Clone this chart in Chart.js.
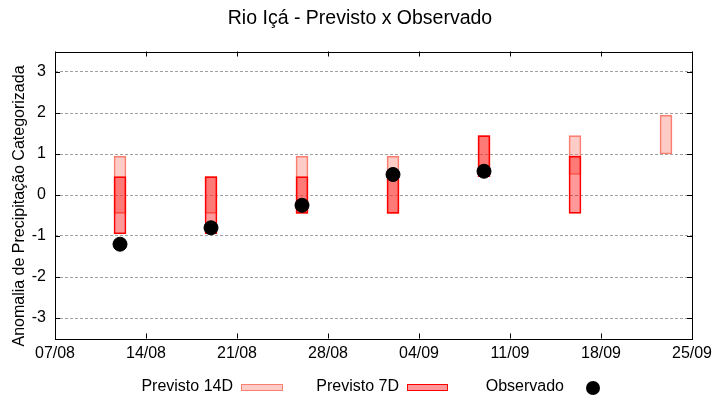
<!DOCTYPE html>
<html>
<head>
<meta charset="utf-8">
<script src="https://cdn.jsdelivr.net/npm/chart.js@4.4.0/dist/chart.umd.min.js"></script>
<style>
  html, body { margin: 0; padding: 0; background: #fff; }
  #wrap { width: 720px; height: 400px; }
</style>
</head>
<body>
<div id="wrap"><canvas id="chart"></canvas></div>
<script>
// chart values
const startDate = '07/08';
const tickLabels = ['07/08', '14/08', '21/08', '28/08', '04/09', '11/09', '18/09', '25/09'];
const yTickValues = [-3, -2, -1, 0, 1, 2, 3];
const forecastDates = ['12/08', '19/08', '26/08', '02/09', '09/09', '16/09', '23/09'];
const prev14Low  = [-0.45, -0.45, -0.45, -0.45, 0.45, 0.5, 1.0];
const prev14High = [0.95, 0.45, 0.95, 0.95, 1.45, 1.45, 1.95];
const prev7Low   = [-0.95, -0.95, -0.45, -0.45, 0.45, -0.45, null];
const prev7High  = [0.45, 0.45, 0.45, 0.45, 1.45, 0.95, null];
const observed   = [-1.2, -0.8, -0.25, 0.5, 0.58, null, null];

const FONT = '"Liberation Sans", Arial, sans-serif';

// days since the first tick (dd/mm, same year)
function dayOffset(s) {
  const [d, m] = s.split('/').map(Number);
  const [d0, m0] = startDate.split('/').map(Number);
  return Math.round((Date.UTC(2024, m - 1, d) - Date.UTC(2024, m0 - 1, d0)) / 86400000);
}

const xDays = forecastDates.map(dayOffset);

function rangeData(lows, highs) {
  const out = [];
  xDays.forEach((x, i) => {
    if (lows[i] !== null && highs[i] !== null) out.push({ x: x, y: [lows[i], highs[i]] });
  });
  return out;
}

const obsData = [];
xDays.forEach((x, i) => { if (observed[i] !== null) obsData.push({ x: x, y: observed[i] }); });

// title, y label, frame, inner ticks, legend in gnuplot style
const decorPlugin = {
  id: 'decor',
  afterDraw(chart) {
    const ctx = chart.ctx;
    const a = chart.chartArea;
    const xs = chart.scales.x, ys = chart.scales.y;
    ctx.save();

    // frame
    ctx.strokeStyle = '#000';
    ctx.lineWidth = 1;
    ctx.strokeRect(Math.round(a.left) + 0.5, Math.round(a.top) + 0.5,
                   Math.round(a.right - a.left), Math.round(a.bottom - a.top));

    // inward tick marks
    ctx.beginPath();
    ys.ticks.forEach(t => {
      const py = Math.round(ys.getPixelForValue(t.value)) + 0.5;
      ctx.moveTo(a.left, py); ctx.lineTo(a.left + 5, py);
      ctx.moveTo(a.right - 5, py); ctx.lineTo(a.right, py);
    });
    xs.ticks.forEach(t => {
      const px = Math.round(xs.getPixelForValue(t.value)) + 0.5;
      ctx.moveTo(px, a.bottom); ctx.lineTo(px, a.bottom - 5);
      ctx.moveTo(px, a.top); ctx.lineTo(px, a.top + 5);
    });
    ctx.stroke();

    // title
    ctx.fillStyle = '#000';
    ctx.textAlign = 'center';
    ctx.textBaseline = 'middle';
    ctx.font = '19.5px ' + FONT;
    ctx.fillText('Rio Içá - Previsto x Observado', 360, 19);

    // y label
    ctx.save();
    ctx.translate(20, 206);
    ctx.rotate(-Math.PI / 2);
    ctx.font = '16px ' + FONT;
    ctx.fillText('Anomalia de Precipitação Categorizada', 0, 0);
    ctx.restore();

    // legend
    const ds = chart.data.datasets;
    const d14 = ds.find(d => d.label === 'Previsto 14D');
    const d7 = ds.find(d => d.label === 'Previsto 7D');
    const dObs = ds.find(d => d.label === 'Observado');
    const ly = 387;
    ctx.font = '16px ' + FONT;
    ctx.textAlign = 'right';
    ctx.fillText(d14.label, 233, ly);
    ctx.fillText(d7.label, 399, ly);
    ctx.fillText(dObs.label, 564, ly);

    ctx.fillStyle = d14.backgroundColor;
    ctx.fillRect(241.5, 384.5, 41, 6);
    ctx.strokeStyle = d14.borderColor;
    ctx.strokeRect(241.5, 384.5, 41, 6);
    ctx.fillStyle = d7.backgroundColor;
    ctx.fillRect(407.5, 384.5, 40, 6);
    ctx.strokeStyle = d7.borderColor;
    ctx.strokeRect(407.5, 384.5, 40, 6);

    ctx.fillStyle = dObs.backgroundColor;
    ctx.beginPath();
    ctx.arc(593, 388, 7, 0, Math.PI * 2);
    ctx.fill();

    ctx.restore();
  }
};

new Chart(document.getElementById('chart'), {
  type: 'bar',
  data: {
    datasets: [
      {
        type: 'scatter',
        label: 'Observado',
        data: obsData,
        backgroundColor: '#000',
        borderColor: '#000',
        pointRadius: 7,
        pointHoverRadius: 7,
        order: 0
      },
      {
        label: 'Previsto 7D',
        data: rangeData(prev7Low, prev7High),
        backgroundColor: 'rgba(255, 0, 0, 0.4)',
        borderColor: '#ff0000',
        borderWidth: 1,
        borderSkipped: false,
        barThickness: 12,
        grouped: false,
        order: 1
      },
      {
        label: 'Previsto 14D',
        data: rangeData(prev14Low, prev14High),
        backgroundColor: 'rgba(250, 128, 114, 0.4)',
        borderColor: '#fa8072',
        borderWidth: 1,
        borderSkipped: false,
        barThickness: 12,
        grouped: false,
        order: 2
      }
    ]
  },
  options: {
    responsive: true,
    maintainAspectRatio: false,
    animation: false,
    layout: { padding: { top: 51.5, right: 28, left: 0, bottom: 0 } },
    plugins: {
      legend: { display: false },
      title: { display: false },
      tooltip: { enabled: false }
    },
    scales: {
      x: {
        type: 'linear',
        min: 0,
        max: 49,
        offset: false,
        ticks: {
          stepSize: 7,
          color: '#000',
          font: { family: FONT, size: 16 },
          padding: 5,
          maxRotation: 0,
          callback: (v) => tickLabels[Math.round(v / 7)]
        },
        grid: { display: false, drawTicks: false },
        border: { display: false },
        afterFit: (s) => { s.height = 61.5; }
      },
      y: {
        min: -3.5,
        max: 3.5,
        afterBuildTicks: (s) => {
          s.ticks = yTickValues.map(v => ({ value: v }));
        },
        ticks: {
          color: '#000',
          font: { family: FONT, size: 16 },
          padding: 9,
          callback: (v) => String(v)
        },
        grid: { color: '#a0a0a0', lineWidth: 1, drawTicks: false },
        border: { display: false, dash: [3, 2] },
        afterFit: (s) => { s.width = 55; }
      }
    }
  },
  plugins: [decorPlugin]
});
</script>
</body>
</html>
